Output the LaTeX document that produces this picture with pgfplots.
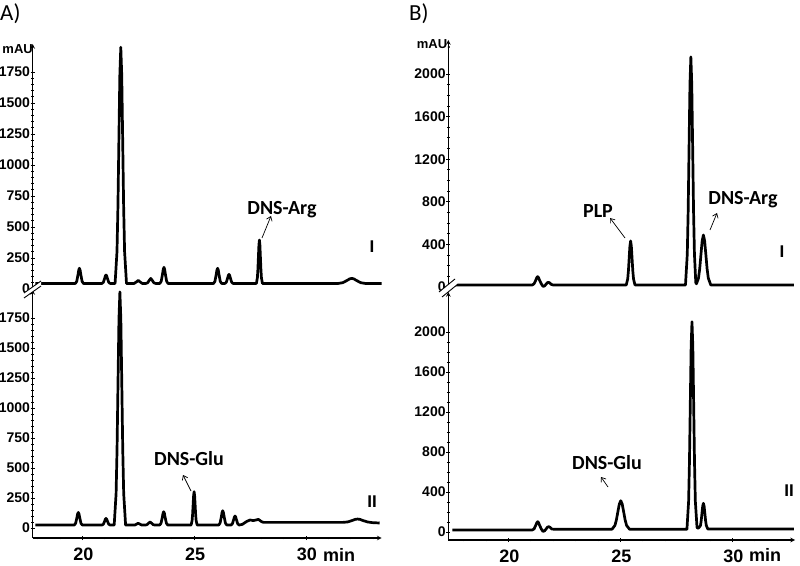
\documentclass[border=0pt]{standalone}
\usepackage{fontspec}
\setmainfont{Liberation Sans}
\newfontfamily\cali{Carlito}
\usepackage{pgfplots}
\pgfplotsset{compat=1.18}
\usetikzlibrary{arrows.meta}

\pgfplotsset{
  chrom/.style={scale only axis, clip=false,
    axis line style={-, line width=1.1pt},
    tick style={black, line width=0.8pt},
    major tick length=4pt, minor tick length=2.5pt, tick align=outside,
    /pgf/number format/assume math mode=true,
    /pgf/number format/1000 sep={},
    ticklabel style={font=\fontsize{14}{14}\selectfont\bfseries},
    yticklabel style={inner xsep=0.5pt}},
  upper/.style={chrom, axis x line=none, axis y line=left},
  lower/.style={chrom, axis x line=bottom, axis y line=left,
    xtick={20,25,30}, xticklabels={20,25,30},
    xticklabel style={font=\fontsize{18}{18}\selectfont\bfseries, yshift=-4pt, xshift=1pt}},
  trace/.style={black, line width=2.7pt, line join=round, no marks},
}

\begin{document}
\begin{tikzpicture}
\path[use as bounding box] (0,0) rectangle (800pt,565pt);

% ---------- panel A, trace I ----------
\begin{axis}[upper, at={(32.7pt,276pt)}, anchor=south west,
  width=349pt, height=245pt, xmin=17.78, xmax=33.39, ymin=0, ymax=1976,
  ytick={0,250,...,1750}, minor y tick num=4]
\addplot[trace] coordinates {
(17.9,45)
(19.69,45)(19.75,61)(19.81,119)(19.84,153)(19.87,167)(19.90,153)(19.93,119)(19.99,61)(20.05,45)
(20.88,45)(20.94,54)(21.00,86)(21.03,105)(21.06,113)(21.09,105)(21.12,86)(21.18,54)(21.24,45)
(21.465,45)(21.55,302)(21.5925,664)(21.635,1201)(21.6775,1725)(21.72,1950)(21.7625,1725)(21.805,1201)(21.8475,664)(21.89,302)(21.975,45)
(22.32,45)(22.44,60)(22.5,70)(22.56,60)(22.68,45)
(22.85,45)(22.92,50)(22.99,69)(23.06,85)(23.13,69)(23.20,50)(23.27,45)
(23.47,45)(23.53,63)(23.59,124)(23.62,160)(23.65,175)(23.68,160)(23.71,124)(23.77,63)(23.83,45)
(25.87,45)(25.93,61)(25.99,119)(26.02,153)(26.05,167)(26.08,153)(26.11,119)(26.17,61)(26.23,45)
(26.38,45)(26.44,55)(26.50,89)(26.53,109)(26.56,118)(26.59,109)(26.62,89)(26.68,55)(26.74,45)
(27.785,45)(27.83,92)(27.8525,159)(27.875,257)(27.8975,354)(27.92,395)(27.9425,354)(27.965,257)(27.9875,159)(28.01,92)(28.055,45)
(31.45,45)(31.65,51)(31.85,70)(31.95,81)(32.05,86)(32.15,81)(32.25,70)(32.45,51)(32.65,45)
(33.39,45)
};
\end{axis}

% ---------- panel A, trace II ----------
\begin{axis}[lower, at={(32.7pt,27pt)}, anchor=south west,
  width=349pt, height=248pt, xmin=17.78, xmax=33.39, ymin=-83, ymax=1983,
  ytick={0,250,...,1750}, minor y tick num=4, minor xtick={18,...,33}]
\addplot[trace] coordinates {
(17.9,25)
(19.64,25)(19.70,39)(19.76,89)(19.79,118)(19.82,130)(19.85,118)(19.88,89)(19.94,39)(20.00,25)
(20.88,25)(20.94,32)(21.00,58)(21.03,74)(21.06,80)(21.09,74)(21.12,58)(21.18,32)(21.24,25)
(21.425,25)(21.51,287)(21.5525,656)(21.595,1204)(21.6375,1738)(21.68,1967)(21.7225,1738)(21.765,1204)(21.8075,656)(21.85,287)(21.935,25)
(22.35,25)(22.45,35)(22.5,40)(22.55,35)(22.65,25)
(22.82,25)(22.89,28)(22.96,40)(23.03,50)(23.10,40)(23.17,28)(23.24,25)
(23.46,25)(23.52,40)(23.58,92)(23.61,123)(23.64,136)(23.67,123)(23.70,92)(23.76,40)(23.82,25)
(24.865,25)(24.91,63)(24.9325,115)(24.955,194)(24.9775,270)(25.0,303)(25.0225,270)(25.045,194)(25.0675,115)(25.09,63)(25.135,25)
(26.10,25)(26.16,41)(26.22,97)(26.25,130)(26.28,144)(26.31,130)(26.34,97)(26.40,41)(26.46,25)
(26.65,25)(26.71,35)(26.77,71)(26.80,91)(26.83,100)(26.86,91)(26.89,71)(26.95,35)(27.01,25)
(27.15,30)(27.35,55)(27.5,67)(27.65,62)(27.88,72)(28.0,55)(28.1,47)
(31.65,47)(31.87,51)(32.09,64)(32.2,72)(32.31,75)(32.42,72)(32.53,64)(32.75,51)(32.97,45)
(33.3,42)
};
\end{axis}

% ---------- panel B, trace I ----------
\begin{axis}[upper, at={(448.3pt,278pt)}, anchor=south west,
  width=346.7pt, height=247pt, xmin=17.32, xmax=32.8, ymin=0, ymax=2319,
  ytick={0,400,...,2000}, minor y tick num=3]
\addplot[trace] coordinates {
(17.5,19)
(21.07,19)(21.15,30)(21.23,66)(21.27,88)(21.31,97)(21.35,88)(21.39,66)(21.47,30)(21.55,5)(21.62,10)(21.68,25)(21.74,40)(21.79,44)(21.84,40)(21.92,24)(22.0,19)
(25.265,19)(25.33,75)(25.3625,153)(25.395,270)(25.4275,383)(25.46,432)(25.4925,383)(25.525,270)(25.5575,153)(25.59,75)(25.655,19)
(27.91,19)(27.99,308)(28.03,715)(28.07,1319)(28.11,1907)(28.15,2160)(28.19,1907)(28.23,1319)(28.27,715)(28.31,308)(28.37,40)
(28.40,30)(28.49,82)(28.545,171)(28.60,304)(28.655,433)(28.71,488)(28.765,433)(28.82,304)(28.875,171)(28.93,82)(29.04,19)
(32.75,19)
};
\end{axis}

% ---------- panel B, trace II ----------
\begin{axis}[lower, at={(448.3pt,25pt)}, anchor=south west,
  width=346.7pt, height=248pt, xmin=17.32, xmax=32.8, ymin=-80, ymax=2400,
  ytick={0,400,...,2000}, minor y tick num=3, minor xtick={18,...,32}]
\addplot[trace] coordinates {
(17.5,20)
(21.07,20)(21.15,31)(21.23,70)(21.27,93)(21.31,103)(21.35,93)(21.39,70)(21.47,31)(21.55,5)(21.62,12)(21.68,28)(21.74,47)(21.80,53)(21.86,47)(21.94,30)(22.02,28)
(24.63,28)(24.76,66)(24.825,121)(24.89,201)(24.955,279)(25.02,313)(25.085,279)(25.15,201)(25.215,121)(25.28,66)(25.41,28)
(27.975,28)(28.05,308)(28.0875,702)(28.125,1288)(28.1625,1858)(28.2,2103)(28.2375,1858)(28.275,1288)(28.3125,702)(28.35,308)(28.425,45)
(28.47,38)(28.515,45)(28.58,65)(28.6125,114)(28.645,186)(28.6775,257)(28.71,287)(28.7425,257)(28.775,186)(28.8075,114)(28.84,65)(28.905,30)
(32.75,30)
};
\end{axis}

% unit after the 30 tick label
\node[anchor=base west, inner sep=0pt, font=\fontsize{18}{18}\selectfont\bfseries] at (323pt,4pt) {min};
\node[anchor=base west, inner sep=0pt, font=\fontsize{18}{18}\selectfont\bfseries] at (749pt,4pt) {min};

% axis breaks
\fill[white] (24pt,272pt)--(41pt,284pt)--(41pt,279pt)--(24pt,267pt)--cycle;
\draw[line width=0.9pt] (24pt,272pt)--(41pt,284pt) (24pt,267pt)--(41pt,279pt);
\fill[white] (439pt,273pt)--(455pt,286pt)--(458pt,281pt)--(442pt,268pt)--cycle;
\draw[line width=0.9pt] (439pt,273pt)--(455pt,286pt) (442pt,268pt)--(458pt,281pt);

% panel letters and units
\node[anchor=west, inner sep=0pt] at (0pt,551pt) {\cali\fontsize{23}{23}\selectfont A)};
\node[anchor=west, inner sep=0pt] at (409pt,551pt) {\cali\fontsize{23}{23}\selectfont B)};
\node[anchor=east, inner sep=0pt] at (33pt,516pt) {\fontsize{13}{13}\selectfont\bfseries mAU};
\node[anchor=east, inner sep=0pt] at (451pt,521pt) {\fontsize{13}{13}\selectfont\bfseries mAU.};

% peak labels
\tikzset{lab/.style={font=\cali\fontsize{20}{20}\selectfont\bfseries},
  pt/.style={line width=0.7pt, -{Straight Barb[length=4pt,width=6pt]}},
  rom/.style={font=\fontsize{17}{17}\selectfont\bfseries}}
\node[lab] at (282pt,355pt) {DNS-Arg};
\draw[pt] (262pt,327pt) -- (271pt,349pt);
\node[rom] at (372pt,318pt) {I};
\node[lab] at (189pt,106pt) {DNS-Glu};
\draw[pt] (191pt,74pt) -- (183pt,90pt);
\node[rom] at (372pt,63pt) {II};
\node[lab] at (598pt,354pt) {PLP};
\draw[pt] (625pt,327pt) -- (610pt,347pt);
\node[lab] at (743pt,365pt) {DNS-Arg};
\draw[pt] (710pt,335pt) -- (717pt,352pt);
\node[rom] at (782pt,313pt) {I};
\node[lab] at (607pt,102pt) {DNS-Glu};
\draw[pt] (608pt,78pt) -- (601pt,88pt);
\node[rom] at (789pt,74pt) {II};
\end{tikzpicture}
\end{document}
